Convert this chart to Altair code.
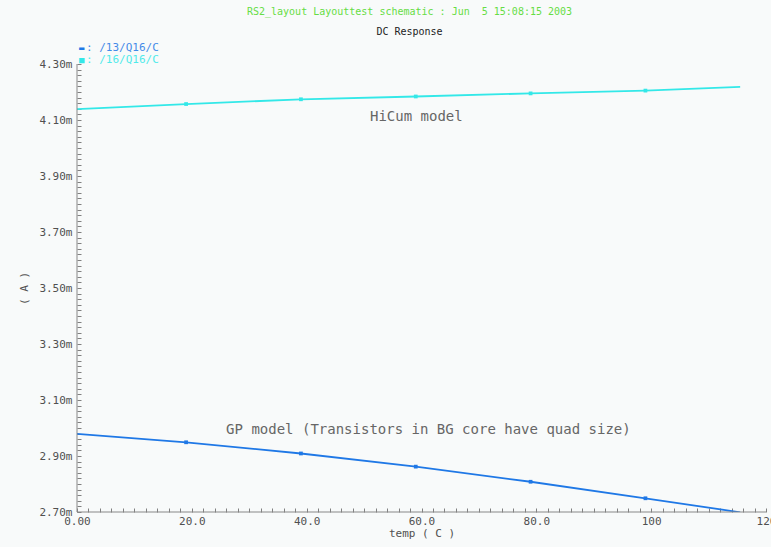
import altair as alt
import pandas as pd

# DC sweep of collector current versus temperature
temp = [0.0, 19.0, 39.0, 59.0, 79.0, 99.0, 115.5]
i_gp = [2.979, 2.949, 2.909, 2.862, 2.808, 2.749, 2.699]      # /13/Q16/C (mA)
i_hicum = [4.139, 4.157, 4.174, 4.184, 4.195, 4.205, 4.218]   # /16/Q16/C (mA)
series = ["/13/Q16/C", "/16/Q16/C"]
colors = ["#1f78e6", "#33e8e8"]

x_major = [0, 20, 40, 60, 80, 100, 120]
x_labels = ["0.00", "20.0", "40.0", "60.0", "80.0", "100", "120"]
y_major = [2.70, 2.90, 3.10, 3.30, 3.50, 3.70, 3.90, 4.10, 4.30]
y_labels = ["2.70m", "2.90m", "3.10m", "3.30m", "3.50m", "3.70m", "3.90m", "4.10m", "4.30m"]

rows = []
for t, a, b in zip(temp, i_gp, i_hicum):
    rows.append({"temp": t, "current": a, "net": series[0]})
    rows.append({"temp": t, "current": b, "net": series[1]})
df = pd.DataFrame(rows)
marks_df = df[(df.temp > 0) & (df.temp < 115)]

FONT = "DejaVu Sans Mono"
W, H = 689, 448

x_ticks = [i * 2 for i in range(61)]
y_ticks = [round(2.70 + i * 0.02, 2) for i in range(81)]

x_lab_expr = "{" + ",".join(f"'{v}':'{l}'" for v, l in zip(x_major, x_labels)) + "}"
y_lab_expr = "{" + ",".join(f"'{v:.2f}':'{l}'" for v, l in zip(y_major, y_labels)) + "}"

x_scale = alt.Scale(domain=[0, 120], nice=False, zero=False)
y_scale = alt.Scale(domain=[2.70, 4.30], nice=False, zero=False)
color_scale = alt.Scale(domain=series, range=colors)

x_axis = alt.Axis(
    values=x_ticks,
    labelExpr=f"datum.value % 20 == 0 ? {x_lab_expr}[format(datum.value, 'd')] : ''",
    offset=-4, domain=False, tickSize=4, tickColor="#808080", tickWidth=1,
    labelPadding=3, labelFont=FONT, labelFontSize=11, labelColor="#505050",
    title="temp ( C )", titleFont=FONT, titleFontSize=11, titleFontWeight="normal",
    titleColor="#505050", titlePadding=1, grid=False, labelFlush=False,
    labelOverlap=False,
)
y_axis = alt.Axis(
    values=y_ticks,
    labelExpr=f"abs(datum.value*10 - round(datum.value*10)) < 0.001 && round(datum.value*10) % 2 == 1 ? {y_lab_expr}[format(datum.value, '.2f')] : ''",
    offset=-4, domain=False, tickSize=4, tickColor="#808080", tickWidth=1,
    labelPadding=5, labelFont=FONT, labelFontSize=11, labelColor="#505050",
    title="( A )", titleFont=FONT, titleFontSize=11, titleFontWeight="normal",
    titleColor="#505050", titlePadding=9, grid=False, labelOverlap=False,
    labelFlush=False,
)

X = lambda f: alt.X(f, scale=x_scale, axis=x_axis)
Y = lambda f: alt.Y(f, scale=y_scale, axis=y_axis)

lines = alt.Chart(df).mark_line(strokeWidth=1.8, clip=True).encode(
    x=X("temp:Q"),
    y=Y("current:Q"),
    color=alt.Color("net:N", scale=color_scale, legend=None),
    detail="net:N",
)

points = alt.Chart(marks_df).mark_square(size=14, opacity=1).encode(
    x=X("temp:Q"),
    y=Y("current:Q"),
    color=alt.Color("net:N", scale=color_scale, legend=None),
)

# axis lines along the left and bottom edges
left_edge = alt.Chart(pd.DataFrame({"temp": [0.0]})).mark_rule(color="#888888", strokeWidth=1).encode(
    x=X("temp:Q")
)
bottom_edge = alt.Chart(pd.DataFrame({"current": [2.70]})).mark_rule(color="#888888", strokeWidth=1).encode(
    y=Y("current:Q")
)

# legend entries above the plot
leg_df = pd.DataFrame({"net": series})
legend_layers = []
for k, name in enumerate(series):
    row_df = leg_df[leg_df.net == name]
    ypos = -16 + 12 * k
    sym = alt.Chart(row_df).mark_text(
        font=FONT, fontSize=9, align="left", baseline="middle", fontWeight="bold"
    ).encode(
        x=alt.value(2),
        y=alt.value(ypos),
        text=alt.value("▬" if k == 0 else "■"),
        color=alt.Color("net:N", scale=color_scale, legend=None),
    )
    txt = alt.Chart(row_df).mark_text(
        font=FONT, fontSize=11, align="left", baseline="middle", opacity=0.85
    ).transform_calculate(label="': ' + datum.net").encode(
        x=alt.value(9),
        y=alt.value(ypos),
        text=alt.Text("label:N"),
        color=alt.Color("net:N", scale=color_scale, legend=None),
    )
    legend_layers += [sym, txt]

# model annotations placed in data coordinates
ann_df = pd.DataFrame({
    "temp": [59.1, 61.2],
    "current": [4.112, 2.993],
    "label": ["HiCum model", "GP model (Transistors in BG core have quad size)"],
})
ann = alt.Chart(ann_df).mark_text(
    font=FONT, fontSize=14, color="#666666", align="center", baseline="middle"
).encode(
    x=X("temp:Q"),
    y=Y("current:Q"),
    text="label:N",
)

chart = alt.layer(
    lines, left_edge, bottom_edge, points, ann, *legend_layers
).properties(
    width=W,
    height=H,
    title=alt.TitleParams(
        text="RS2_layout Layouttest schematic : Jun\u00a0 5 15:08:15 2003",
        subtitle="DC Response",
        font=FONT, fontSize=10, fontWeight="normal", color="#66dd44",
        subtitleFont=FONT, subtitleFontSize=10, subtitleColor="#222222",
        subtitlePadding=10, anchor="middle", dx=-12, offset=5,
    ),
    padding={"left": 77, "top": 64, "right": 5, "bottom": 35},
    autosize=alt.AutoSizeParams(type="none"),
    background="#f8fafa",
).configure_view(stroke=None).configure_axis(grid=False)

chart.save("out.html", embed_options={"renderer": "svg", "actions": False})
